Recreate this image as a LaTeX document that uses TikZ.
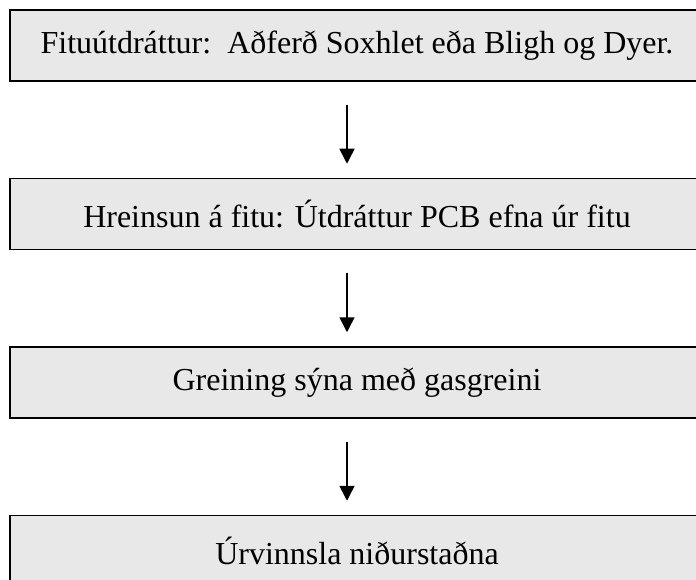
\documentclass[tikz,border=0pt]{standalone}
\usepackage{fontspec}
\setmainfont{Liberation Serif}
\usetikzlibrary{positioning,arrows.meta}
\definecolor{boxgray}{HTML}{E8E8E8}
\begin{document}
\begin{tikzpicture}[x=1pt,y=-1pt,>=Triangle,
  stage/.style={draw=black,line width=1.5pt,fill=boxgray,minimum width=694pt,minimum height=71pt,inner sep=0pt,
    font=\fontsize{32}{38}\selectfont},
  flow/.style={line width=1.5pt,-{Triangle[width=15pt,length=15pt]},shorten <=23pt,shorten >=14pt}]
  \useasboundingbox (0,0) rectangle (696,580);
  \clip (0,0) rectangle (696,580);
  % the four steps
  \node[stage] (b1) at (357,45.5) {Fituútdráttur:\ \ Aðferð Soxhlet eða Bligh og Dyer.};
  \node[stage,below=96pt of b1] (b2) {Hreinsun á fitu: Útdráttur PCB efna úr fitu};
  \node[stage,below=96pt of b2] (b3) {Greining sýna með gasgreini};
  \node[stage,below=96pt of b3] (b4) {Úrvinnsla niðurstaðna};
  % arrows
  \draw[flow] ([xshift=-10pt]b1.south) -- ([xshift=-10pt]b2.north);
  \draw[flow] ([xshift=-10pt]b2.south) -- ([xshift=-10pt]b3.north);
  \draw[flow] ([xshift=-10pt]b3.south) -- ([xshift=-10pt]b4.north);
\end{tikzpicture}
\end{document}
